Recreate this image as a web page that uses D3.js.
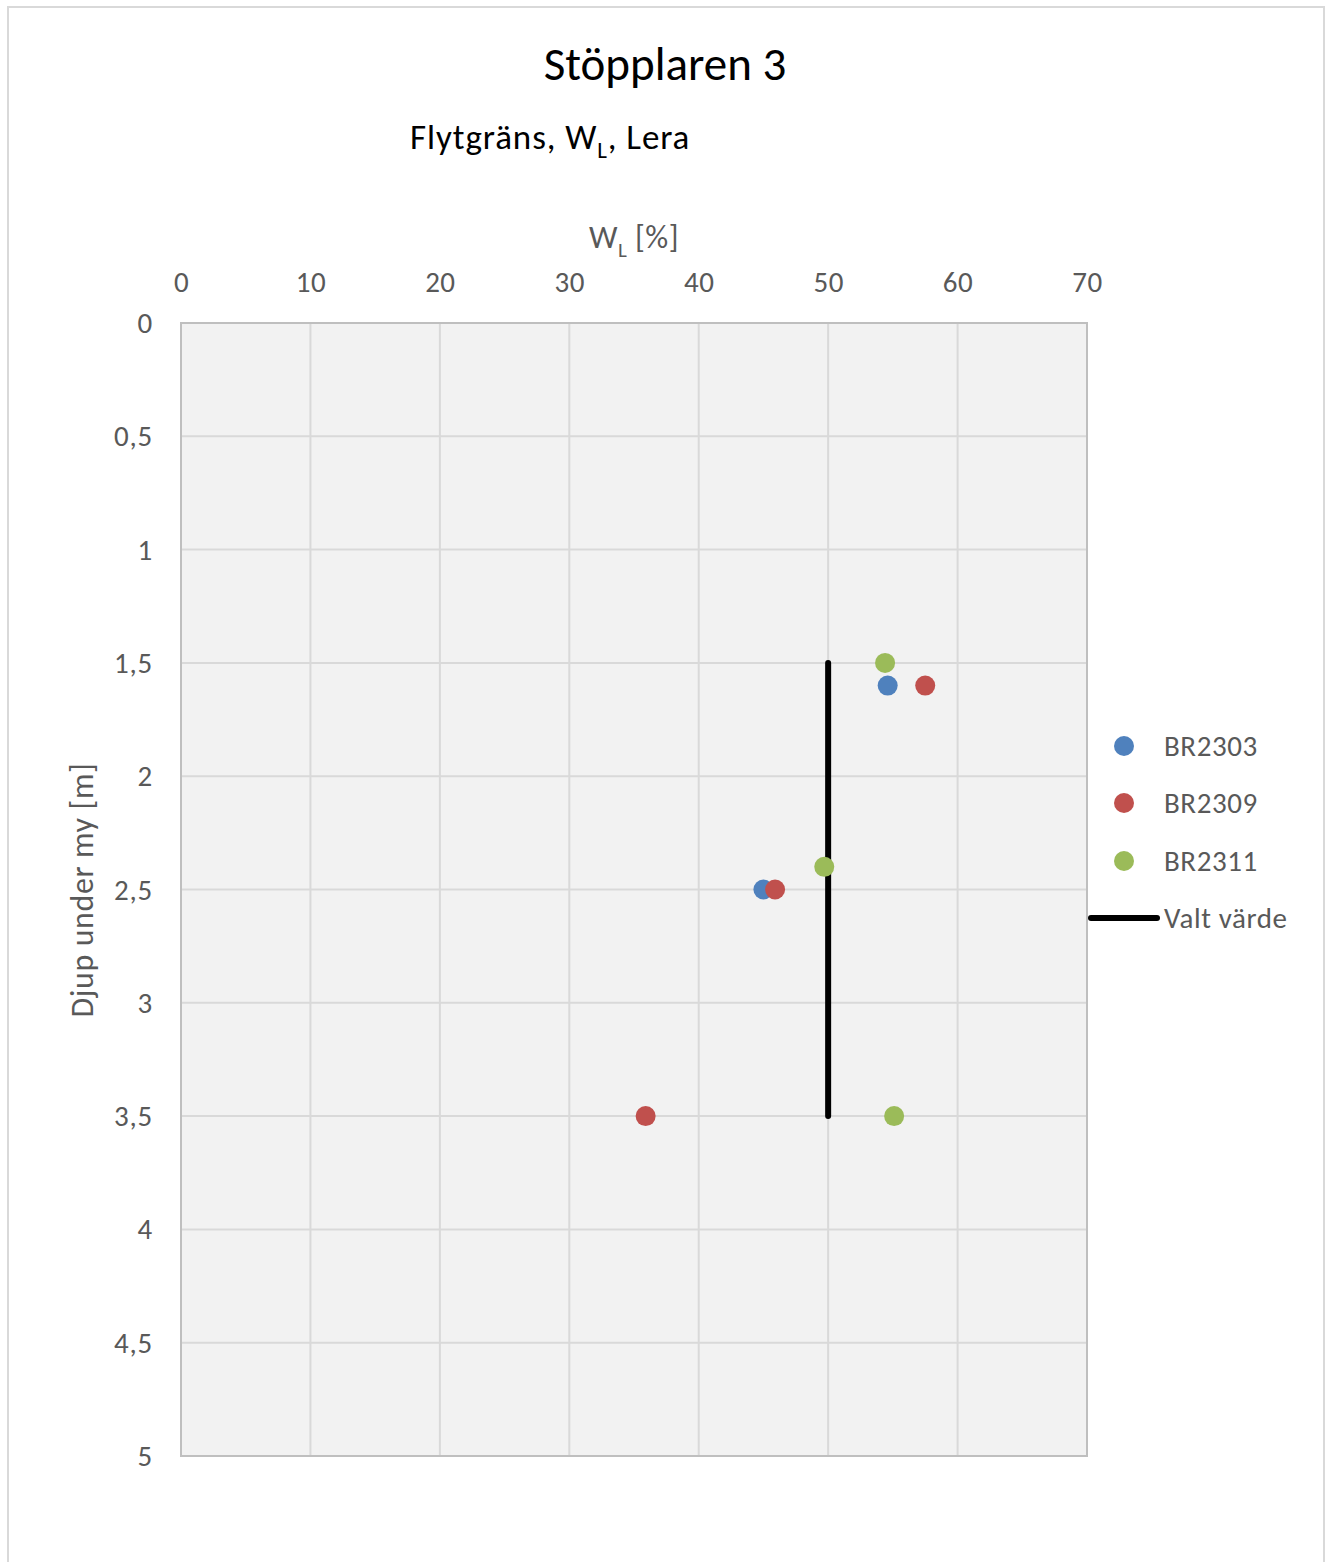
<!DOCTYPE html>
<html><head><meta charset="utf-8">
<script src="https://cdn.jsdelivr.net/npm/d3@7"></script>
<style>body{margin:0;background:#fff}svg{display:block}</style>
</head><body>
<script>
const xTicks = [0,10,20,30,40,50,60,70];
const yTicks = [0,0.5,1,1.5,2,2.5,3,3.5,4,4.5,5];
const yTickLabels = ["0","0,5","1","1,5","2","2,5","3","3,5","4","4,5","5"];
const seriesNames = ["BR2303","BR2309","BR2311"];
const seriesColors = ["#4F81BD","#C0504D","#9BBB59"];
const br2303 = [{x:54.6,y:1.6},{x:45.0,y:2.5}];
const br2309 = [{x:57.5,y:1.6},{x:45.9,y:2.5},{x:35.9,y:3.5}];
const br2311 = [{x:54.4,y:1.5},{x:49.7,y:2.4},{x:55.1,y:3.5}];
const valtVarde = [{x:50,y:1.5},{x:50,y:3.5}];
const seriesData = [br2303, br2309, br2311];

const W = 1326, H = 1562;
const font = "Carlito, Calibri, 'Open Sans', sans-serif";
const svg = d3.select("body").append("svg").attr("width",W).attr("height",H);
svg.append("rect").attr("x",8).attr("y",7).attr("width",1316).attr("height",1570)
  .attr("fill","#fff").attr("stroke","#D9D9D9").attr("stroke-width",2);

const x = d3.scaleLinear().domain([0,70]).range([181,1087]);
const y = d3.scaleLinear().domain([0,5]).range([323,1456]);

svg.append("rect").attr("x",x(0)).attr("y",y(0)).attr("width",x(70)-x(0)).attr("height",y(5)-y(0)).attr("fill","#F2F2F2");

const g = svg.append("g");
g.selectAll("line.vg").data(xTicks).join("line").attr("x1",d=>x(d)).attr("x2",d=>x(d)).attr("y1",y(0)).attr("y2",y(5))
  .attr("stroke","#D9D9D9").attr("stroke-width",2);
g.selectAll("line.hg").data(yTicks).join("line").attr("y1",d=>y(d)).attr("y2",d=>y(d)).attr("x1",x(0)).attr("x2",x(70))
  .attr("stroke","#D9D9D9").attr("stroke-width",2);
svg.append("rect").attr("x",x(0)).attr("y",y(0)).attr("width",x(70)-x(0)).attr("height",y(5)-y(0))
  .attr("fill","none").attr("stroke","#BFBFBF").attr("stroke-width",2);

// axes labels
const xAxis = d3.axisTop(x).tickValues(xTicks).tickSize(0).tickPadding(0).tickFormat(d=>d);
const xa = svg.append("g").attr("transform",`translate(0,292)`).call(xAxis);
xa.select(".domain").remove();
xa.selectAll("text").attr("font-family",font).attr("font-size",29).attr("fill","#595959").attr("dy",0).attr("y",0).attr("letter-spacing",0.5);

const yAxis = d3.axisLeft(y).tickValues(yTicks).tickSize(0).tickPadding(0).tickFormat((d,i)=>yTickLabels[i]);
const ya = svg.append("g").attr("transform",`translate(153,0)`).call(yAxis);
ya.select(".domain").remove();
ya.selectAll("text").attr("font-family",font).attr("font-size",29).attr("fill","#595959").attr("dy","0.33em").attr("letter-spacing",0.8);

// titles
svg.append("text").attr("x",665).attr("y",80).attr("text-anchor","middle").attr("font-family",font).attr("font-size",47).attr("fill","#000").text("Stöpplaren 3");
const st = svg.append("text").attr("x",410).attr("y",149).attr("font-family",font).attr("font-size",35).attr("fill","#000").attr("letter-spacing",0.9);
st.append("tspan").text("Flytgräns, W");
st.append("tspan").attr("font-size",23).attr("dy",9).text("L");
st.append("tspan").attr("dy",-9).text(", Lera");

const at = svg.append("text").attr("x",634).attr("y",248).attr("text-anchor","middle").attr("font-family",font).attr("font-size",32).attr("fill","#595959").attr("letter-spacing",0.5);
at.append("tspan").text("W");
at.append("tspan").attr("font-size",21).attr("dy",9).text("L");
at.append("tspan").attr("dy",-9).text(" [%]");

svg.append("text").attr("transform","translate(93,890) rotate(-90)").attr("text-anchor","middle").attr("font-family",font).attr("font-size",32).attr("fill","#595959").attr("letter-spacing",0.6).text("Djup under my [m]");

// valt värde line
svg.append("path").datum(valtVarde).attr("d",d3.line().x(d=>x(d.x)).y(d=>y(d.y)))
  .attr("stroke","#000").attr("stroke-width",6).attr("stroke-linecap","round").attr("fill","none");

// points
seriesData.forEach((s,i)=>{
  svg.append("g").selectAll("circle").data(s).join("circle")
    .attr("cx",d=>x(d.x)).attr("cy",d=>y(d.y)).attr("r",10).attr("fill",seriesColors[i]);
});

// legend
const ly = [746,803,861];
seriesNames.forEach((n,i)=>{
  svg.append("circle").attr("cx",1124).attr("cy",ly[i]).attr("r",10).attr("fill",seriesColors[i]);
  svg.append("text").attr("x",1164).attr("y",ly[i]).attr("dy","0.35em").attr("font-family",font).attr("font-size",29).attr("fill","#595959").attr("letter-spacing",0.6).text(n);
});
svg.append("line").attr("x1",1091).attr("x2",1157).attr("y1",918).attr("y2",918).attr("stroke","#000").attr("stroke-width",6).attr("stroke-linecap","round");
svg.append("text").attr("x",1164).attr("y",918).attr("dy","0.35em").attr("font-family",font).attr("font-size",29).attr("fill","#595959").attr("letter-spacing",0.6).text("Valt värde");
</script>
</body></html>
